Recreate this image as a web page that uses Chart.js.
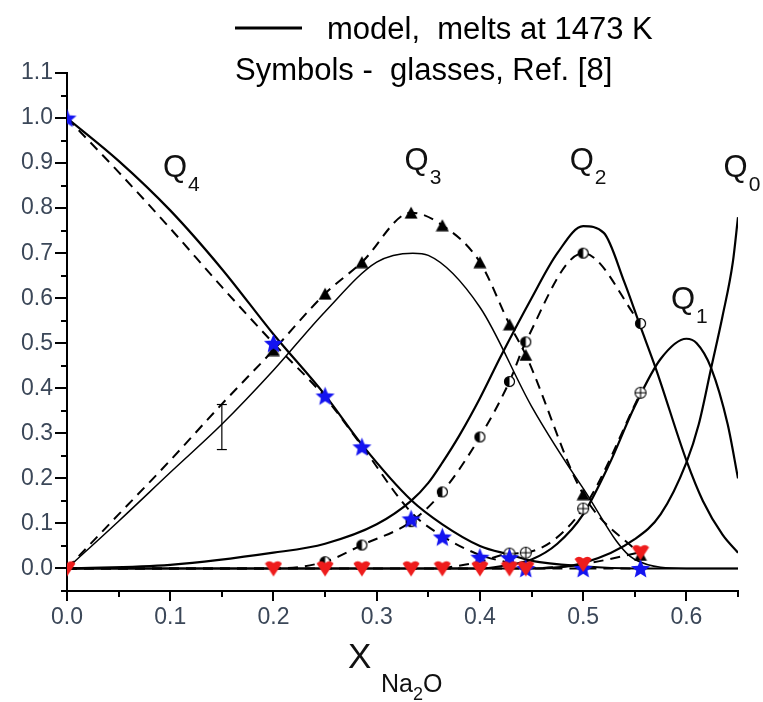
<!DOCTYPE html>
<html><head><meta charset="utf-8">
<script src="https://cdn.jsdelivr.net/npm/chart.js@4.4.1/dist/chart.umd.min.js"></script>
<style>html,body{margin:0;padding:0;background:#fff;}canvas{display:block;}</style>
</head><body>
<canvas id="c" width="763" height="702"></canvas>
<script>
// ---------------- data ----------------
// tick labels
const xTickLabels = ['0.0','0.1','0.2','0.3','0.4','0.5','0.6'];
const yTickLabels = ['0.0','0.1','0.2','0.3','0.4','0.5','0.6','0.7','0.8','0.9','1.0','1.1'];

// glass data, Ref. [8] (symbols)
const glassX  = [0, 0.2, 0.25, 0.2857, 0.3333, 0.3636, 0.4, 0.4286, 0.4444, 0.5, 0.5556];
const glassQ4 = [1.0, 0.50, 0.383, 0.27, 0.11, 0.07, 0.025, 0.024, 0.0, 0.0, 0.0];
const glassQ0 = [0, 0, 0, 0, 0, 0, 0, 0, 0, 0.01, 0.036];
const glassQ3X = [0.2, 0.25, 0.2857, 0.3333, 0.3636, 0.4, 0.4286, 0.4444, 0.5, 0.5556];
const glassQ3  = [0.485, 0.61, 0.68, 0.79, 0.762, 0.68, 0.542, 0.474, 0.165, 0.03];
const glassQ2X = [0.25, 0.2857, 0.3333, 0.3636, 0.4, 0.4286, 0.4444, 0.5, 0.5556];
const glassQ2  = [0.015, 0.052, 0.104, 0.17, 0.292, 0.415, 0.503, 0.70, 0.544];
const glassQ1X = [0.4286, 0.4444, 0.5, 0.5556];
const glassQ1  = [0.033, 0.035, 0.133, 0.39];

// dashed curves through the glass data
const fitQ4X = [0, 0.05, 0.1, 0.15, 0.2, 0.25, 0.2857, 0.3333, 0.3636, 0.4, 0.4286, 0.4444, 0.5, 0.5556];
const fitQ4  = [1.0, 0.88, 0.755, 0.625, 0.50, 0.38, 0.272, 0.125, 0.072, 0.03, 0.012, 0.0, 0.0, 0.0];
const fitQ3X = [0, 0.05, 0.1, 0.15, 0.2, 0.25, 0.2857, 0.3333, 0.3636, 0.4, 0.4286, 0.4444, 0.5, 0.5556];
const fitQ3  = [0, 0.12, 0.24, 0.365, 0.485, 0.61, 0.68, 0.79, 0.762, 0.68, 0.542, 0.474, 0.165, 0.03];
const fitQ2X = [0, 0.1, 0.2, 0.25, 0.2857, 0.3333, 0.3636, 0.4, 0.4286, 0.4444, 0.5, 0.5556];
const fitQ2  = [0, 0, 0, 0.015, 0.052, 0.104, 0.17, 0.292, 0.415, 0.503, 0.70, 0.544];
const fitQ1X = [0.3636, 0.4, 0.4286, 0.4444, 0.5, 0.5556];
const fitQ1  = [0, 0.015, 0.033, 0.035, 0.133, 0.39];
const fitQ0X = [0, 0.4444, 0.5, 0.5556];
const fitQ0  = [0, 0, 0.01, 0.036];

// model, melts at 1473 K (solid)
const modQ4X = [0, 0.05, 0.1, 0.15, 0.2, 0.25, 0.2857, 0.3333, 0.3636, 0.4, 0.43, 0.45, 0.5, 0.55, 0.6, 0.65];
const modQ4  = [1.0, 0.905, 0.795, 0.665, 0.52, 0.385, 0.275, 0.152, 0.098, 0.05, 0.03, 0.017, 0.005, 0.0, 0.0, 0.0];
const modQ3X = [0, 0.05, 0.1, 0.15, 0.2, 0.25, 0.3, 0.335, 0.35, 0.4, 0.45, 0.5, 0.55, 0.6, 0.65];
const modQ3  = [0, 0.105, 0.213, 0.32, 0.44, 0.57, 0.68, 0.70, 0.695, 0.58, 0.36, 0.178, 0.02, 0.0, 0.0];
const modQ2X = [0, 0.1, 0.2, 0.25, 0.3, 0.3333, 0.35, 0.3636, 0.38, 0.4, 0.42, 0.45, 0.475, 0.5, 0.52, 0.54, 0.555, 0.571, 0.6, 0.616, 0.635, 0.65];
const modQ2  = [0, 0.008, 0.035, 0.055, 0.098, 0.15, 0.19, 0.235, 0.295, 0.378, 0.47, 0.60, 0.70, 0.76, 0.745, 0.635, 0.54, 0.44, 0.24, 0.15, 0.075, 0.035];
const modQ1X = [0, 0.4, 0.42, 0.45, 0.475, 0.5, 0.525, 0.55, 0.575, 0.6, 0.61, 0.624, 0.64, 0.65];
const modQ1  = [0, 0, 0.005, 0.02, 0.055, 0.12, 0.23, 0.36, 0.465, 0.51, 0.50, 0.445, 0.32, 0.2];
const modQ0X = [0, 0.45, 0.5, 0.55, 0.575, 0.6, 0.612, 0.624, 0.635, 0.645, 0.65];
const modQ0  = [0, 0, 0.012, 0.065, 0.12, 0.235, 0.32, 0.445, 0.56, 0.68, 0.78];

// typical error bar
const errX = [0.15, 0.15];
const errY = [0.264, 0.364];

// ---------------- helpers ----------------
const FONT = "'Liberation Sans', Arial, Helvetica, sans-serif";
const pts = (xs, ys) => xs.map((x, i) => ({x, y: ys[i]}));

function mk(w, h, fn) { const c = document.createElement('canvas'); c.width = w; c.height = h; fn(c.getContext('2d'), w, h); return c; }
const starImg = mk(21, 21, (g, w, h) => {
  g.fillStyle = '#1414f0'; g.beginPath();
  for (let i = 0; i < 10; i++) { const a = -Math.PI / 2 + i * Math.PI / 5; const r = i % 2 === 0 ? 10 : 4.5; g.lineTo(w / 2 + r * Math.cos(a), h / 2 + 0.8 + r * Math.sin(a)); }
  g.closePath(); g.fill();
});
const triImg = mk(14, 13, (g) => { g.fillStyle = '#000'; g.beginPath(); g.moveTo(7, 0.5); g.lineTo(13.5, 12.5); g.lineTo(0.5, 12.5); g.closePath(); g.fill(); });
const redImg = mk(18, 18, (g) => {
  g.fillStyle = '#ee1c1c'; g.beginPath(); g.moveTo(0.5, 4); g.quadraticCurveTo(4.5, 0, 9, 3.5); g.quadraticCurveTo(13.5, 0, 17.5, 4); g.lineTo(9, 17); g.closePath(); g.fill();
});
const halfImg = mk(13, 13, (g) => {
  g.fillStyle = '#fff'; g.beginPath(); g.arc(6.5, 6.5, 5, 0, 2 * Math.PI); g.fill();
  g.fillStyle = '#000'; g.beginPath(); g.arc(6.5, 6.5, 5, Math.PI / 2, 3 * Math.PI / 2); g.closePath(); g.fill();
  g.strokeStyle = '#000'; g.lineWidth = 1.2; g.beginPath(); g.arc(6.5, 6.5, 5, 0, 2 * Math.PI); g.stroke();
});
const plusImg = mk(14, 14, (g) => {
  g.fillStyle = '#fff'; g.strokeStyle = '#000'; g.lineWidth = 1.1;
  g.beginPath(); g.arc(7, 7, 5.5, 0, 2 * Math.PI); g.fill(); g.stroke();
  g.beginPath(); g.moveTo(1.5, 7); g.lineTo(12.5, 7); g.moveTo(7, 1.5); g.lineTo(7, 12.5); g.stroke();
});

const marker = (data, img) => ({data, showLine: false, pointStyle: img, pointRadius: 6, pointHoverRadius: 6});
const line = (data, w, dash) => ({data, showLine: true, borderColor: '#000', borderWidth: w, borderDash: dash || [], pointRadius: 0, cubicInterpolationMode: 'monotone', fill: false});

const datasets = [
  marker(pts(glassX, glassQ0), redImg),
  marker(pts(glassX, glassQ4), starImg),
  marker(pts(glassQ3X, glassQ3), triImg),
  marker(pts(glassQ2X, glassQ2), halfImg),
  marker(pts(glassQ1X, glassQ1), plusImg),
  {data: pts(errX, errY), showLine: true, borderColor: '#000', borderWidth: 1.2, pointStyle: 'line', pointRadius: 5, pointBorderColor: '#000', pointBorderWidth: 1.2},
  line(pts(fitQ4X, fitQ4), 2, [10, 7]),
  line(pts(fitQ3X, fitQ3), 2, [10, 7]),
  line(pts(fitQ2X, fitQ2), 2, [10, 7]),
  line(pts(fitQ1X, fitQ1), 2, [10, 7]),
  line(pts(fitQ0X, fitQ0), 2, [10, 7]),
  line(pts(modQ4X, modQ4), 2.2),
  line(pts(modQ3X, modQ3), 1.5),
  line(pts(modQ2X, modQ2), 2.2),
  line(pts(modQ1X, modQ1), 2.2),
  line(pts(modQ0X, modQ0), 2.2)
];

const xMajor = xTickLabels.map(Number);
const yMajor = yTickLabels.map(Number);
const TICKC = '#3b4758';

const decor = {
  id: 'decor',
  afterDraw(chart) {
    const {ctx, scales: {x, y}} = chart;
    ctx.save();
    ctx.strokeStyle = '#000'; ctx.lineWidth = 2;
    // y ticks (major + minor)
    const yT = [];
    yMajor.forEach(v => { yT.push([v, 12]); yT.push([v - 0.05, 6]); });
    yT.forEach(([v, L]) => { const p = Math.round(y.getPixelForValue(v)); ctx.beginPath(); ctx.moveTo(x.left, p); ctx.lineTo(x.left - L, p); ctx.stroke(); });
    const xT = [];
    xMajor.forEach(v => { xT.push([v, 10]); xT.push([v + 0.05, 6]); });
    xT.forEach(([v, L]) => { const p = Math.round(x.getPixelForValue(v)); ctx.beginPath(); ctx.moveTo(p, y.bottom); ctx.lineTo(p, y.bottom + L); ctx.stroke(); });

    // legend
    ctx.fillStyle = '#000'; ctx.textBaseline = 'alphabetic'; ctx.textAlign = 'left';
    ctx.lineWidth = 3; ctx.beginPath(); ctx.moveTo(235, 28); ctx.lineTo(302, 28); ctx.stroke();
    ctx.font = '31px ' + FONT;
    ctx.fillText('model,  melts at 1473 K', 327, 39);
    ctx.fillText('Symbols -  glasses, Ref. [8]', 235, 80);

    // curve labels
    const qlab = (q, sub, xv, yv) => {
      const px = x.getPixelForValue(xv), py = y.getPixelForValue(yv);
      ctx.font = '31px ' + FONT; ctx.fillText(q, px, py);
      const w = ctx.measureText(q).width;
      ctx.font = '21px ' + FONT; ctx.fillText(sub, px + w + 1, py + 14);
    };
    ctx.fillStyle = '#111';
    qlab('Q', '4', 0.093, 0.87);
    qlab('Q', '3', 0.327, 0.885);
    qlab('Q', '2', 0.487, 0.885);
    qlab('Q', '0', 0.636, 0.87);
    qlab('Q', '1', 0.585, 0.575);

    // x axis title
    ctx.fillStyle = '#111';
    ctx.font = '35px ' + FONT; ctx.fillText('X', 348, 668);
    ctx.font = '25px ' + FONT; ctx.fillText('Na', 381, 692);
    const wNa = ctx.measureText('Na').width;
    ctx.font = '18px ' + FONT; ctx.fillText('2', 381 + wNa, 700);
    const w2 = ctx.measureText('2').width;
    ctx.font = '25px ' + FONT; ctx.fillText('O', 381 + wNa + w2, 692);
    ctx.restore();
  }
};

new Chart(document.getElementById('c'), {
  type: 'scatter',
  data: {datasets},
  options: {
    responsive: false, animation: false, devicePixelRatio: 1,
    layout: {padding: {top: 73, right: 25, left: 0, bottom: 0}},
    plugins: {legend: {display: false}, tooltip: {enabled: false}},
    scales: {
      x: {
        type: 'linear', min: 0, max: 0.65,
        afterBuildTicks: s => { s.ticks = xMajor.map(v => ({value: v})); },
        afterFit: s => { s.height = 111; },
        grid: {display: true, drawOnChartArea: false, color: 'rgba(0,0,0,0)', tickLength: 10},
        border: {display: true, color: '#000', width: 2},
        ticks: {autoSkip: false, maxRotation: 0, padding: 3, color: TICKC, font: {family: FONT, size: 23},
          callback: v => xTickLabels[xMajor.findIndex(m => Math.abs(m - v) < 1e-6)] || ''}
      },
      y: {
        type: 'linear', min: -0.05, max: 1.1,
        afterBuildTicks: s => { s.ticks = yMajor.map(v => ({value: v})); },
        afterFit: s => { s.width = 67; },
        grid: {display: true, drawOnChartArea: false, color: 'rgba(0,0,0,0)', tickLength: 12},
        border: {display: true, color: '#000', width: 2},
        ticks: {autoSkip: false, padding: 2, color: TICKC, font: {family: FONT, size: 23},
          callback: v => yTickLabels[yMajor.findIndex(m => Math.abs(m - v) < 1e-6)] || ''}
      }
    }
  },
  plugins: [decor]
});
</script>
</body></html>
